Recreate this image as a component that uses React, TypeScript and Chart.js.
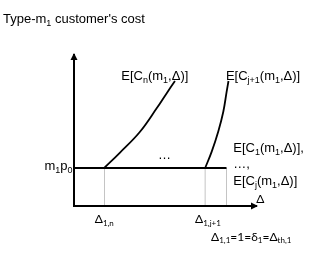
import React, { useEffect, useRef } from "react";
import { Chart, registerables } from "chart.js";

Chart.register(...registerables);

// Data (arbitrary units: Δ on x, cost on y; m1p0 = 1)
const deltaMarks = [2, 8.6, 10]; // Δ1,n , Δ1,j+1 , Δ1,1
const basePrice = 1; // m1p0 level
const axisMaxX = 12;
const axisMaxY = 4;
const curveNx = [1.98, 3.0, 4.3, 5.42, 6.08, 6.62];
const curveNy = [1.0, 1.4, 1.94, 2.57, 2.97, 3.29];
const curveJx = [8.6, 9.03, 9.46, 9.79, 10.01, 10.13];
const curveJy = [1.0, 1.43, 1.96, 2.48, 3.01, 3.29];

const titleText = "Type-m_{1} customer's cost";
const curveLabels = ["E[C_{n}(m_{1},Δ)]", "E[C_{j+1}(m_{1},Δ)]"];
const rightLabels = ["E[C_{1}(m_{1},Δ)],", "…,", "E[C_{j}(m_{1},Δ)]"];
const midDots = "…";
const yLevelLabel = "m_{1}p_{0}";
const xAxisLabel = "Δ";
const tickLabels = ["Δ_{1,n}", "Δ_{1,j+1}"];
const footLabel = "Δ_{1,1}=1=δ_{1}=Δ_{th,1}";

type Seg = { t: string; sub: boolean };
function parse(s: string): Seg[] {
  const out: Seg[] = [];
  const re = /_\{([^}]*)\}/g;
  let last = 0;
  let m: RegExpExecArray | null;
  while ((m = re.exec(s))) {
    if (m.index > last) out.push({ t: s.slice(last, m.index), sub: false });
    out.push({ t: m[1], sub: true });
    last = m.index + m[0].length;
  }
  if (last < s.length) out.push({ t: s.slice(last), sub: false });
  return out;
}

function drawRich(
  ctx: CanvasRenderingContext2D,
  s: string,
  x: number,
  y: number,
  family: string,
  size: number,
  align: "left" | "right" = "left"
) {
  const segs = parse(s);
  const subSize = Math.round(size * 0.68);
  const fontFor = (sg: Seg) => `${sg.sub ? subSize : size}px ${family}`;
  let w = 0;
  for (const sg of segs) {
    ctx.font = fontFor(sg);
    w += ctx.measureText(sg.t).width;
  }
  let cx = align === "right" ? x - w : x;
  ctx.textAlign = "left";
  ctx.textBaseline = "alphabetic";
  ctx.fillStyle = "#000";
  for (const sg of segs) {
    ctx.font = fontFor(sg);
    ctx.fillText(sg.t, cx, y + (sg.sub ? size * 0.22 : 0));
    cx += ctx.measureText(sg.t).width;
  }
}

const ARIAL = "'Liberation Sans', Arial, sans-serif";
const CALIBRI = "Lato, 'Liberation Sans', sans-serif";

const overlay = {
  id: "overlay",
  afterDraw(chart: any) {
    const ctx: CanvasRenderingContext2D = chart.ctx;
    const xs = chart.scales.x;
    const ys = chart.scales.y;
    const X = (v: number) => xs.getPixelForValue(v);
    const Y = (v: number) => ys.getPixelForValue(v);
    ctx.save();
    // arrowheads
    ctx.fillStyle = "#000";
    const ox = X(0), oy = Y(0);
    const ty = Y(axisMaxY);
    ctx.beginPath();
    ctx.moveTo(ox, ty - 1);
    ctx.lineTo(ox - 3.5, ty + 6);
    ctx.lineTo(ox + 3.5, ty + 6);
    ctx.closePath();
    ctx.fill();
    const tx = X(axisMaxX);
    ctx.beginPath();
    ctx.moveTo(tx + 1, oy);
    ctx.lineTo(tx - 6, oy - 3.5);
    ctx.lineTo(tx - 6, oy + 3.5);
    ctx.closePath();
    ctx.fill();

    // texts
    drawRich(ctx, titleText, 3, 23, ARIAL, 13);
    drawRich(ctx, curveLabels[0], X(3.1), Y(3.31), ARIAL, 13);
    drawRich(ctx, curveLabels[1], X(9.96), Y(3.31), ARIAL, 13);
    drawRich(ctx, rightLabels[0], X(10.44), Y(1.43), ARIAL, 13);
    drawRich(ctx, rightLabels[1], X(10.44), Y(1.0), ARIAL, 13);
    drawRich(ctx, rightLabels[2], X(10.44), Y(0.54), ARIAL, 13);
    drawRich(ctx, midDots, X(5.51), Y(1.23), ARIAL, 13);
    drawRich(ctx, yLevelLabel, X(-0.1), Y(0.95), ARIAL, 13, "right");
    drawRich(ctx, xAxisLabel, X(11.95), Y(0.07), CALIBRI, 12);
    drawRich(ctx, tickLabels[0], X(1.36), Y(-0.46), CALIBRI, 12);
    drawRich(ctx, tickLabels[1], X(7.94), Y(-0.46), CALIBRI, 12);
    drawRich(ctx, footLabel, X(8.99), Y(-0.91), CALIBRI, 12);
    ctx.restore();
  },
};

export default function App() {
  const ref = useRef<HTMLCanvasElement | null>(null);
  useEffect(() => {
    if (!ref.current) return;
    const line = (data: { x: number; y: number }[], color: string, width: number, tension = 0) => ({
      data,
      borderColor: color,
      borderWidth: width,
      pointRadius: 0,
      showLine: true,
      fill: false,
      tension,
      clip: false as any,
    });
    const chart = new Chart(ref.current, {
      type: "scatter",
      data: {
        datasets: [
          line(
            [
              { x: 0, y: axisMaxY },
              { x: 0, y: 0 },
              { x: axisMaxX, y: 0 },
            ],
            "#000",
            2
          ),
          line(
            [
              { x: 0, y: basePrice },
              { x: deltaMarks[2], y: basePrice },
            ],
            "#000",
            2
          ),
          line(curveNx.map((x, i) => ({ x, y: curveNy[i] })), "#000", 1.8, 0.4),
          line(curveJx.map((x, i) => ({ x, y: curveJy[i] })), "#000", 1.8, 0.4),
          ...deltaMarks.map((d) =>
            line(
              [
                { x: d, y: 0 },
                { x: d, y: basePrice },
              ],
              "#c4c4c4",
              1
            )
          ),
        ],
      },
      options: {
        animation: false,
        responsive: false,
        layout: { padding: { left: 74, right: 70, top: 54, bottom: 66 } },
        plugins: { legend: { display: false }, tooltip: { enabled: false }, title: { display: false } },
        scales: {
          x: { type: "linear", min: 0, max: axisMaxX, display: false },
          y: { type: "linear", min: 0, max: axisMaxY, display: false },
        },
      },
      plugins: [overlay],
    });
    return () => chart.destroy();
  }, []);
  return (
    <div style={{ position: "fixed", left: 0, top: 0, width: 327, height: 272, background: "#fff" }}>
      <canvas ref={ref} width={327} height={272} style={{ width: 327, height: 272, display: "block" }} />
    </div>
  );
}
